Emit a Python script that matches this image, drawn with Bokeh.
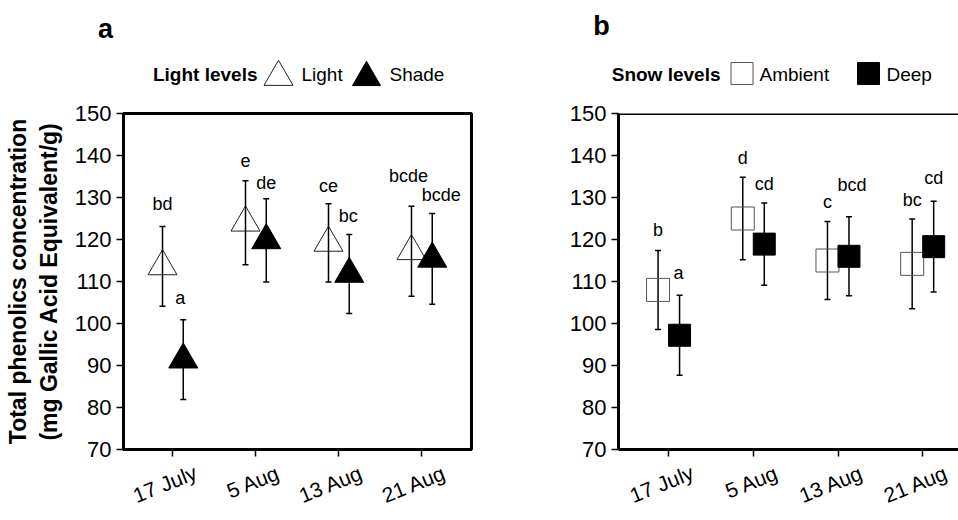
from bokeh.plotting import figure
from bokeh.models import (ColumnDataSource, Whisker, TeeHead, Range1d, FixedTicker,
                          LabelSet, Label, Span, LinearAxis)
from bokeh.core.properties import value
from bokeh.layouts import row, column
from bokeh.embed import file_html
from bokeh.resources import INLINE

FONT = "Liberation Sans"

# ---------------- data ----------------
dates = ["17 July", "5 Aug", "13 Aug", "21 Aug"]
y_ticks = [70, 80, 90, 100, 110, 120, 130, 140, 150]

# panel a: light levels
light_mean = [113.6, 124.0, 119.2, 117.2]
light_err = [9.5, 10.0, 9.3, 10.7]
light_letters = ["bd", "e", "ce", "bcde"]
shade_mean = [91.4, 119.8, 111.8, 115.4]
shade_err = [9.5, 9.9, 9.4, 10.8]
shade_letters = ["a", "de", "bc", "bcde"]

# panel b: snow levels
ambient_mean = [108.0, 125.0, 115.0, 114.2]
ambient_err = [9.4, 9.85, 9.3, 10.7]
ambient_letters = ["b", "d", "c", "bc"]
deep_mean = [97.2, 118.9, 116.0, 118.3]
deep_err = [9.5, 9.8, 9.4, 10.8]
deep_letters = ["a", "cd", "bcd", "cd"]

# letter placement tweaks (pixels above the error-bar cap, horizontal nudge)
light_dy = [22, 20, 18, 30]
light_dx = [0, 0, 0, -3]
shade_dy = [22, 16, 18, 18]
shade_dx = [-3, 0, -1, 9]
ambient_dy = [20, 19, 19, 19]
ambient_dx = [0, 0, 0, 0]
deep_dy = [22, 19, 32, 23]
deep_dx = [-1, 0, 3, 0]

HEADER_H = 96
MAIN_H = 520 - HEADER_H
TOP_PAD = 113 - HEADER_H
TOTAL_W = 958


def series_source(mean, err, letters, dx, dy, shift):
    xs = [i + 1 + shift for i in range(len(mean))]
    return ColumnDataSource(dict(
        x=xs, mean=mean,
        upper=[m + e for m, e in zip(mean, err)],
        lower=[m - e for m, e in zip(mean, err)],
        letter=letters, dx=dx, dy=dy,
    ))


def base_figure(width, x_lo, x_hi, left_border, right_border):
    p = figure(width=width, height=MAIN_H, title=None,
               x_range=Range1d(x_lo, x_hi), y_range=Range1d(70, 150),
               output_backend="svg", toolbar_location=None,
               min_border_left=left_border, min_border_right=right_border,
               min_border_top=TOP_PAD, min_border_bottom=59)
    p.grid.visible = False
    p.background_fill_color = "white"
    p.border_fill_color = "white"
    for ax in (p.xaxis[0], p.yaxis[0]):
        ax.axis_line_width = 3
        ax.axis_line_color = "black"
        ax.major_tick_line_width = 1.5
        ax.major_tick_line_color = "black"
        ax.major_tick_in = 0
        ax.major_tick_out = 7
        ax.minor_tick_line_color = None
        ax.major_label_text_font = FONT
        ax.major_label_text_font_size = "22px"
        ax.major_label_text_color = "black"
    p.yaxis[0].ticker = FixedTicker(ticks=y_ticks)
    p.yaxis[0].major_label_standoff = 5
    tick_pos = [i + 1 for i in range(len(dates))]
    xa = p.xaxis[0]
    xa.ticker = FixedTicker(ticks=tick_pos)
    xa.major_label_overrides = {t: "" for t in tick_pos}
    xa.major_label_text_font_size = "1px"
    xa.major_label_standoff = 0
    # second (label-only) axis: rotated date labels, anchored right of each tick
    shift = 0.28
    lab_pos = [t + shift for t in tick_pos]
    la = LinearAxis(ticker=FixedTicker(ticks=lab_pos),
                    major_label_overrides={lp: d for lp, d in zip(lab_pos, dates)},
                    major_label_orientation=0.38,
                    axis_line_color=None, major_tick_line_color=None,
                    minor_tick_line_color=None, major_label_standoff=15,
                    major_tick_in=0, major_tick_out=0,
                    major_label_text_font=FONT, major_label_text_font_size="21px",
                    major_label_text_color="black")
    p.add_layout(la, "below")
    return p


def add_series(p, src, marker, size, fill, line_color, line_width):
    p.add_layout(Whisker(base="x", upper="upper", lower="lower", source=src,
                         dimension="height", line_width=1.5, line_color="black",
                         upper_head=TeeHead(size=6, line_width=1.5, line_color="black"),
                         lower_head=TeeHead(size=6, line_width=1.5, line_color="black")))
    p.scatter(x="x", y="mean", source=src, marker=marker, size=size,
              fill_color=fill, line_color=line_color, line_width=line_width)
    p.add_layout(LabelSet(x="x", y="upper", text="letter", source=src,
                          x_offset="dx", y_offset="dy",
                          text_align="center", text_baseline="middle",
                          text_font=value(FONT), text_font_size="18px",
                          text_color="black"))


# ---------------- header (panel letters + legends), pixel coordinates ----------------
hdr = figure(width=TOTAL_W, height=HEADER_H, title=None,
             x_range=Range1d(0, TOTAL_W), y_range=Range1d(HEADER_H, 0),
             x_axis_type=None, y_axis_type=None,
             output_backend="svg", toolbar_location=None,
             min_border=0, min_border_left=0, min_border_right=0,
             min_border_top=0, min_border_bottom=0, outline_line_color=None)
hdr.grid.visible = False


def text(x, y, t, size, align, bold=False):
    hdr.add_layout(Label(x=x, y=y, text=t, text_align=align, text_baseline="middle",
                         text_font=FONT, text_font_style="bold" if bold else "normal",
                         text_font_size=size, text_color="black"))


def legend_key(x, y, marker, size, fill, line_color):
    hdr.scatter(x=[x], y=[y], marker=marker, size=size, fill_color=fill,
                line_color=line_color, line_width=1)


# panel a header (y measured downward from the top of the page)
text(105, 28, "a", "27px", "center", bold=True)
text(257, 74, "Light levels", "19px", "right", bold=True)
legend_key(278, 76.5, "triangle", 29, None, "#222222")
text(301, 74, "Light", "19px", "left")
legend_key(366, 77, "triangle", 28, "black", "black")
text(389, 74, "Shade", "19px", "left")

# panel b header
text(601, 25, "b", "27px", "center", bold=True)
text(720, 74, "Snow levels", "19px", "right", bold=True)
legend_key(741.5, 73, "square", 22, None, "#555555")
text(759, 74, "Ambient", "19px", "left")
legend_key(868, 73, "square", 22, "black", "black")
text(886, 74, "Deep", "19px", "left")

# ---------------- panel a ----------------
pa = base_figure(478, 0.41, 4.603, 123, 7)
pa.outline_line_color = "black"
pa.outline_line_width = 3
pa.yaxis[0].axis_label = "Total phenolics concentration\n(mg Gallic Acid Equivalent/g)"
pa.yaxis[0].axis_label_text_font = FONT
pa.yaxis[0].axis_label_text_font_style = "bold"
pa.yaxis[0].axis_label_text_font_size = "23px"
pa.yaxis[0].axis_label_text_color = "black"
pa.yaxis[0].axis_label_standoff = 10

src_light = series_source(light_mean, light_err, light_letters, light_dx, light_dy, -0.12)
src_shade = series_source(shade_mean, shade_err, shade_letters, shade_dx, shade_dy, 0.13)
add_series(pa, src_light, "triangle", 29, None, "#222222", 1)
add_series(pa, src_shade, "triangle", 29, "black", "black", 1)

# ---------------- panel b ----------------
pb = base_figure(480, 0.406, 4.42, 140, 0)
pb.outline_line_color = None
pb.add_layout(Span(location=150, dimension="width", line_color="black", line_width=3))

src_amb = series_source(ambient_mean, ambient_err, ambient_letters, ambient_dx, ambient_dy, -0.127)
src_deep = series_source(deep_mean, deep_err, deep_letters, deep_dx, deep_dy, 0.127)
add_series(pb, src_amb, "square", 23, None, "#555555", 1)
add_series(pb, src_deep, "square", 22, "black", "black", 1)

layout = column(hdr, row(pa, pb))
open("out.html", "w").write(file_html(layout, INLINE))
